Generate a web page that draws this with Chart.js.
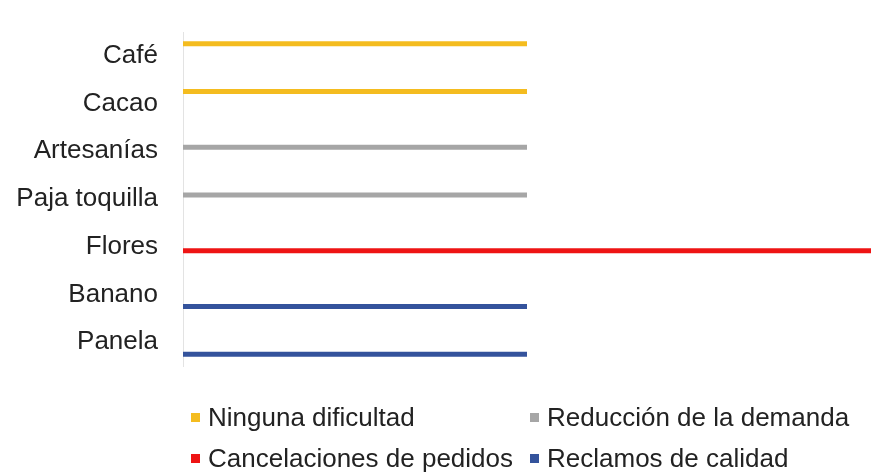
<html>
<head>
    <meta charset="utf-8">
    <title>Dificultades por producto</title>
    <style>
        body {
            margin: 0;
            background: #fff;
            font-family: "Liberation Sans", Arial, sans-serif;
        }
        .wrap {
            position: relative;
            width: 871px;
            height: 473px;
        }
        #legend {
            position: absolute;
            left: 0;
            top: 0;
            width: 871px;
            height: 473px;
            pointer-events: none;
        }
        .item {
            position: absolute;
            font-size: 26px;
            line-height: 26px;
            color: #222;
            white-space: nowrap;
        }
        .box {
            display: inline-block;
            width: 9px;
            height: 9px;
            margin-right: 8px;
            vertical-align: middle;
            position: relative;
            top: -2px;
        }
    </style>
    <script src="https://cdn.jsdelivr.net/npm/chart.js"></script>
</head>
<body>
    <div class="wrap">
        <canvas id="difChart"></canvas>
        <div id="legend"></div>
    </div>
    <script>
        var productos = ['Café', 'Cacao', 'Artesanías', 'Paja toquilla', 'Flores', 'Banano', 'Panela'];
        var series = ['Ninguna dificultad', 'Reducción de la demanda', 'Cancelaciones de pedidos', 'Reclamos de calidad'];
        var ningunaDificultad = [1, 1, null, null, null, null, null];
        var reduccionDemanda = [null, null, 1, 1, null, null, null];
        var cancelaciones = [null, null, null, null, 2, null, null];
        var reclamosCalidad = [null, null, null, null, null, 1, 1];
        var colores = ['#F4BC1F', '#A6A6A6', '#EE1414', '#34539C'];

        var valores = [ningunaDificultad, reduccionDemanda, cancelaciones, reclamosCalidad];
        var datasets = series.map(function (nombre, i) {
            return {
                label: nombre,
                data: valores[i],
                backgroundColor: colores[i],
                borderWidth: 0,
                categoryPercentage: 0.67,
                barPercentage: 0.625
            };
        });

        var ctx = document.getElementById('difChart').getContext('2d');
        var difChart = new Chart(ctx, {
            type: 'bar',
            data: {
                labels: productos,
                datasets: datasets
            },
            options: {
                indexAxis: 'y',
                responsive: true,
                maintainAspectRatio: false,
                animation: false,
                layout: {
                    padding: { top: 32, bottom: 107, left: 0, right: 0 }
                },
                plugins: {
                    legend: { display: false },
                    tooltip: { enabled: false }
                },
                scales: {
                    x: {
                        display: false,
                        min: 0,
                        max: 2
                    },
                    y: {
                        // ticks invisibles de 25px para separar las etiquetas del eje
                        grid: { color: 'transparent', drawTicks: true, tickLength: 25 },
                        border: { display: true, color: '#E3E3E3', width: 1 },
                        ticks: {
                            padding: 0,
                            color: '#222',
                            font: { family: '"Liberation Sans", Arial, sans-serif', size: 26 }
                        },
                        afterFit: function (scale) {
                            scale.width = 183;
                        }
                    }
                }
            }
        });

        // leyenda en dos columnas, como en el original
        var colX = [191, 530];
        var rowY = [404, 445];
        var legend = document.getElementById('legend');
        series.forEach(function (nombre, i) {
            var item = document.createElement('div');
            item.className = 'item';
            item.style.left = colX[i % 2] + 'px';
            item.style.top = rowY[Math.floor(i / 2)] + 'px';
            item.innerHTML = '<span class="box" style="background:' + colores[i] + '"></span>' + nombre;
            legend.appendChild(item);
        });
    </script>
</body>
</html>
